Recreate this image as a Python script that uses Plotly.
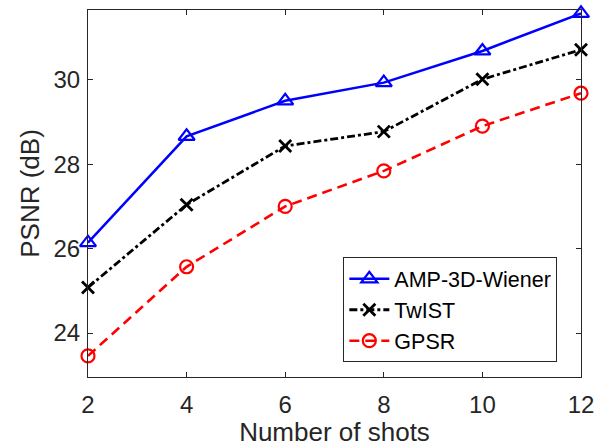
import plotly.graph_objects as go

shots = [2, 4, 6, 8, 10, 12]
amp_3d_wiener = [26.14, 28.66, 29.50, 29.93, 30.68, 31.57]
twist = [25.08, 27.04, 28.43, 28.77, 30.01, 30.71]
gpsr = [23.46, 25.57, 27.00, 27.84, 28.90, 29.68]
y_ticks = [24, 26, 28, 30]

axis_color = "#262626"
font_family = "Liberation Sans, Arial, sans-serif"

fig = go.Figure()
fig.add_trace(go.Scatter(
    x=shots, y=amp_3d_wiener, name="AMP-3D-Wiener", mode="lines+markers",
    cliponaxis=False,
    line=dict(color="#0000ff", width=2.5, dash="solid"),
    marker=dict(symbol="triangle-up-open", size=14, line=dict(width=2.2, color="#0000ff"))))
fig.add_trace(go.Scatter(
    x=shots, y=twist, name="TwIST", mode="lines+markers",
    cliponaxis=False,
    line=dict(color="#000000", width=2.8, dash="8px,3px,3px,3px"),
    marker=dict(symbol="x-thin-open", size=12, line=dict(width=2.8, color="#000000"))))
fig.add_trace(go.Scatter(
    x=shots, y=gpsr, name="GPSR", mode="lines+markers",
    cliponaxis=False,
    line=dict(color="#ff0000", width=2.6, dash="10px,6px"),
    marker=dict(symbol="circle-open", size=13, line=dict(width=2.2, color="#ff0000"))))

fig.update_layout(
    width=605, height=447,
    margin=dict(l=88, r=24, t=10, b=70, autoexpand=False),
    paper_bgcolor="white", plot_bgcolor="white",
    font=dict(family=font_family, size=24, color=axis_color),
    showlegend=True,
    legend=dict(x=0.952, xanchor="right", y=0.04, yanchor="bottom",
                bgcolor="white", bordercolor=axis_color, borderwidth=1,
                font=dict(size=21.5, color="#000000"), tracegroupgap=0,
                itemwidth=40),
)
fig.update_xaxes(
    range=[2, 12], tickvals=shots, ticks="inside", ticklen=5, tickcolor=axis_color,
    showline=True, linecolor=axis_color, linewidth=1, mirror="ticks",
    showgrid=False, zeroline=False, automargin=False,
    title=dict(text="Number of shots", standoff=2, font=dict(size=26)),
    tickfont=dict(size=24), ticklabelstandoff=6)
fig.update_yaxes(
    range=[22.96, 31.65], tickvals=y_ticks, ticks="inside", ticklen=5,
    tickcolor=axis_color, showline=True, linecolor=axis_color, linewidth=1,
    mirror="ticks", showgrid=False, zeroline=False, automargin=False,
    title=dict(text="PSNR (dB)", standoff=6, font=dict(size=26)),
    tickfont=dict(size=24), ticklabelstandoff=2)

fig.write_html("out.html", config={"displayModeBar": False},
               post_script="document.body.style.margin='0';document.body.style.padding='0';")
